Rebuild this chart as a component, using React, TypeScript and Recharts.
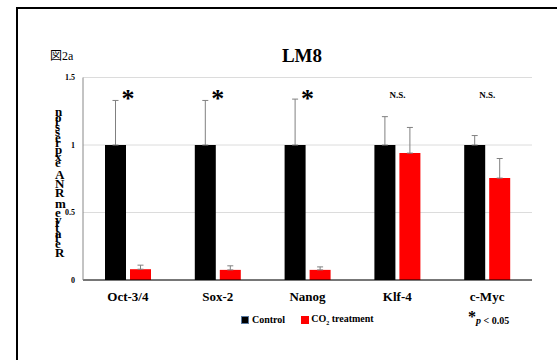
import React from "react";
import {
  BarChart,
  Bar,
  XAxis,
  YAxis,
  CartesianGrid,
  ErrorBar,
  LabelList,
} from "recharts";

// gene names along the x axis
const categories = ["Oct-3/4", "Sox-2", "Nanog", "Klf-4", "c-Myc"];
// relative mRNA expression, mean and upper SD
const controlValues = [1, 1, 1, 1, 1];
const controlErrors = [0.33, 0.33, 0.34, 0.21, 0.07];
const co2Values = [0.08, 0.075, 0.075, 0.94, 0.755];
const co2Errors = [0.03, 0.03, 0.022, 0.19, 0.145];
const significance = ["*", "*", "*", "N.S.", "N.S."];
const yTicks = [0, 0.5, 1, 1.5];
const SIG_LEVEL = 1.37;

const W = 557;
const H = 360;
const BAR = 21;
const GAP = 4;
const SERIF = "Liberation Serif, Tinos, Times New Roman, DejaVu Serif, serif";

const data = categories.map((name, i) => ({
  name,
  control: controlValues[i],
  controlErr: [0, controlErrors[i]],
  co2: co2Values[i],
  co2Err: [0, co2Errors[i]],
  sig: significance[i],
}));

function SigLabel(props: any) {
  const { x, y, width, height, value, index } = props;
  const cx = Number(x) + Number(width) + GAP / 2;
  const base = Number(y) + Number(height);
  const perUnit = Number(height) / controlValues[index];
  const yy = base - SIG_LEVEL * perUnit;
  if (value === "*") {
    return (
      <text x={cx} y={yy + 12} textAnchor="middle" style={{ fontFamily: SERIF }} fontWeight="bold" fontSize={26} fill="#000">
        *
      </text>
    );
  }
  return (
    <text x={cx} y={yy + 3} textAnchor="middle" style={{ fontFamily: SERIF }} fontWeight="bold" fontSize={9} fill="#000">
      {value}
    </text>
  );
}

// the original renders this label as upright letters stacked bottom to top
function StackedLabel() {
  const text = "Relative mRNA expression";
  return (
    <text
      x={55}
      y={257}
      transform="rotate(-90 55 257)"
      rotate={Array(text.length).fill(90).join(" ")}
      style={{ fontFamily: SERIF }}
      fontWeight="bold"
      fontSize={13}
      fill="#000"
    >
      {text}
    </text>
  );
}

export default function App() {
  return (
    <div style={{ position: "fixed", left: 0, top: 0, width: W, height: H, overflow: "hidden", background: "#fff", fontFamily: SERIF }}>
      <div
        style={{
          position: "absolute",
          left: 16,
          top: 7,
          width: 700,
          height: 500,
          borderTop: "2px solid #000",
          borderLeft: "2px solid #000",
        }}
      />
      <div style={{ position: "absolute", left: 50, top: 46, fontFamily: "Liberation Serif, Noto Sans CJK JP, serif", fontSize: 12 }}>
        図2a
      </div>
      <div
        style={{
          position: "absolute",
          left: 0,
          width: 604,
          top: 45,
          textAlign: "center",
          fontWeight: "bold",
          fontSize: 19,
        }}
      >
        LM8
      </div>
      <div style={{ position: "absolute", left: 0, top: 0 }}>
        <BarChart
          width={W}
          height={H}
          data={data}
          margin={{ top: 77.5, right: 25, bottom: 50, left: 43 }}
          barSize={BAR}
          barGap={GAP}
        >
          <CartesianGrid stroke="#dcdcdc" vertical={false} />
          <XAxis
            dataKey="name"
            axisLine={{ stroke: "#000" }}
            tickLine={false}
            tickSize={6}
            tickMargin={6}
            height={30}
            tick={{ fill: "#000", fontSize: 13, fontWeight: "bold", style: { fontFamily: SERIF } }}
          />
          <YAxis
            domain={[0, 1.5]}
            ticks={yTicks}
            width={40}
            axisLine={{ stroke: "#888" }}
            tickLine={false}
            tickSize={6}
            tickMargin={2}
            tick={{ fill: "#000", fontSize: 8, fontWeight: "bold", style: { fontFamily: SERIF } }}
            label={<StackedLabel />}
          />
          <Bar dataKey="control" fill="#000" isAnimationActive={false}>
            <ErrorBar dataKey="controlErr" direction="y" width={3} stroke="#808080" strokeWidth={1} />
            <LabelList dataKey="sig" content={<SigLabel />} />
          </Bar>
          <Bar dataKey="co2" fill="#ff0000" isAnimationActive={false}>
            <ErrorBar dataKey="co2Err" direction="y" width={3} stroke="#808080" strokeWidth={1} />
          </Bar>
        </BarChart>
      </div>
      <div
        style={{
          position: "absolute",
          top: 313,
          left: 241,
          fontWeight: "bold",
          fontSize: 10,
          display: "flex",
          alignItems: "center",
          whiteSpace: "nowrap",
        }}
      >
        <span style={{ width: 6, height: 6, background: "#000", border: "1px solid #5a7aa0", marginRight: 3 }} />
        <span style={{ marginRight: 16 }}>Control</span>
        <span style={{ width: 8, height: 8, background: "#ff0000", marginRight: 2 }} />
        <span>
          CO<sub style={{ fontSize: 6 }}>2</sub> treatment
        </span>
      </div>
      <div
        style={{
          position: "absolute",
          top: 312,
          left: 468,
          fontWeight: "bold",
          fontSize: 10,
          whiteSpace: "nowrap",
          lineHeight: "14px",
        }}
      >
        <span style={{ fontSize: 16, position: "relative", top: -2 }}>*</span>
        <i>p</i> &lt; 0.05
      </div>
    </div>
  );
}
